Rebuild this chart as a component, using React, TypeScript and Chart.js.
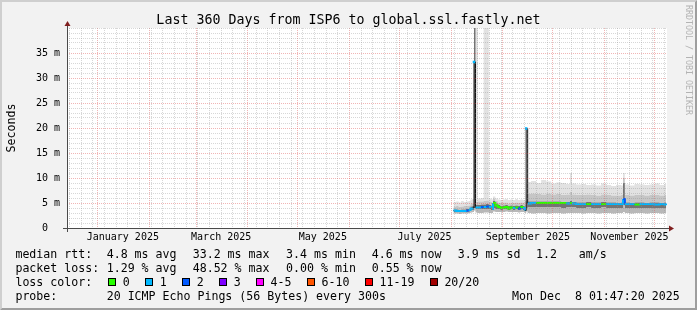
import React, { useEffect, useRef } from 'react';
import { Chart, registerables } from 'chart.js';

Chart.register(...registerables);

const MONO = '"DejaVu Sans Mono", "Liberation Mono", monospace';

// ---- axes (x in days relative to 1 January 2025) ----
const rangeStartDay = -18.5;
const rangeEndDay = 341.5;
const firstSunday = -17;
const monthStartDays = [0, 31, 59, 90, 120, 151, 181, 212, 243, 273, 304, 334];
const monthLabelDays = [15, 74, 135, 196, 258, 319];
const monthLabelTexts = ['January 2025', 'March 2025', 'May 2025', 'July 2025', 'September 2025', 'November 2025'];
const yMaxMs = 40;

// ---- data ----
const sampleDays = [
  213.4, 215.0, 216.5, 218.0, 219.5, 221.0, 222.5, 223.6, 224.8, 225.7,
  226.6, 228.0, 229.9, 231.5, 233.0, 234.6, 235.9, 236.6, 237.1, 238.5,
  240.0, 241.5, 243.0, 244.5, 246.0, 247.5, 249.0, 250.5, 252.0, 253.5,
  255.0, 256.2, 257.0, 257.9,
  260, 263, 266, 269, 272, 275, 278, 281, 283.3, 284.5,
  287, 290, 293, 296, 299, 302, 305, 308, 311, 314,
  315.1, 316.2, 319, 322, 325, 328, 331, 334, 337, 340, 341.1,
];
const medianMs = [
  3.5, 3.4, 3.4, 3.4, 3.4, 3.5, 3.6, 3.9, 4.0, 33.2,
  4.1, 4.1, 4.2, 4.2, 4.3, 4.2, 3.9, 3.8, 5.0, 4.5,
  4.2, 4.0, 4.1, 4.2, 3.9, 4.1, 4.0, 4.1, 3.9, 4.2,
  4.0, 3.5, 19.9, 4.9,
  5.0, 5.0, 5.0, 5.0, 5.0, 5.0, 5.0, 4.9, 5.0, 4.9,
  4.8, 4.8, 4.8, 4.8, 4.8, 4.8, 4.8, 4.8, 4.8, 4.8,
  5.8, 4.8, 4.8, 4.7, 4.8, 4.8, 4.8, 4.7, 4.8, 4.7, 4.6,
];
// index into lossColors
const lossClass = [
  1, 1, 1, 1, 1, 2, 1, 1, 1, 1,
  1, 1, 2, 1, 2, 1, 5, 1, 0, 0,
  0, 0, 0, 0, 0, 0, 1, 0, 2, 0,
  1, 1, 1, 1,
  1, 0, 0, 0, 0, 0, 0, 1, 0, 1,
  1, 1, 0, 1, 1, 0, 1, 1, 1, 1,
  2, 1, 1, 0, 1, 1, 1, 1, 1, 1, 1,
];
const pingMin = [
  2.9, 2.9, 2.8, 2.9, 2.9, 2.9, 3.0, 3.1, 3.2, 3.5,
  3.1, 3.0, 3.0, 3.1, 3.1, 3.0, 3.0, 3.0, 3.3, 3.2,
  3.2, 3.2, 3.2, 3.3, 3.2, 3.2, 3.2, 3.2, 3.1, 3.2,
  3.2, 3.0, 3.3, 3.0,
  2.9, 3.0, 3.0, 2.9, 3.0, 3.0, 2.9, 3.0, 3.0, 3.0,
  3.0, 2.9, 3.0, 3.0, 2.9, 3.0, 3.0, 2.9, 3.0, 3.0,
  3.2, 3.0, 2.9, 3.0, 3.0, 2.9, 3.0, 3.0, 2.9, 3.0, 3.0,
];
const pingLow = [
  3.2, 3.2, 3.1, 3.2, 3.2, 3.2, 3.3, 3.5, 3.6, 4.0,
  3.7, 3.7, 3.7, 3.8, 3.8, 3.7, 3.6, 3.5, 3.9, 3.8,
  3.7, 3.6, 3.7, 3.7, 3.6, 3.7, 3.6, 3.7, 3.6, 3.7,
  3.6, 3.3, 4.0, 4.1,
  4.1, 4.2, 4.1, 4.2, 4.1, 4.1, 4.0, 4.1, 4.1, 4.1,
  4.0, 4.0, 4.1, 4.0, 4.0, 4.1, 4.0, 4.0, 4.0, 4.0,
  4.5, 4.0, 4.0, 4.0, 4.0, 4.0, 4.0, 4.0, 4.0, 4.0, 4.0,
];
const pingHigh1 = [
  3.7, 3.7, 3.6, 3.7, 3.7, 3.8, 3.9, 4.3, 4.4, 40,
  4.6, 4.6, 4.7, 4.7, 4.8, 4.6, 4.5, 4.4, 5.4, 4.9,
  4.6, 4.4, 4.5, 4.6, 4.4, 4.5, 4.4, 4.5, 4.4, 4.6,
  4.4, 4.0, 5.3, 5.3,
  5.3, 5.3, 5.3, 5.3, 5.3, 5.3, 5.2, 5.2, 5.4, 5.2,
  5.1, 5.1, 5.2, 5.1, 5.1, 5.2, 5.1, 5.1, 5.0, 5.1,
  9.0, 5.1, 5.0, 5.1, 5.1, 5.0, 5.1, 5.1, 5.0, 5.1, 5.0,
];
const pingHigh2 = [
  4.3, 4.4, 4.2, 4.3, 4.4, 4.4, 4.5, 4.9, 5.0, 45,
  5.2, 5.3, 5.3, 5.4, 5.5, 5.3, 5.2, 5.1, 5.9, 5.4,
  5.1, 5.0, 5.1, 5.1, 4.9, 5.0, 5.0, 5.1, 5.0, 5.1,
  5.0, 4.6, 6.8, 6.8,
  6.9, 6.8, 6.7, 6.9, 6.7, 6.8, 6.6, 6.7, 7.2, 6.7,
  6.6, 6.6, 6.7, 6.6, 6.5, 6.7, 6.6, 6.5, 6.5, 6.6,
  10.0, 6.6, 6.5, 6.6, 6.6, 6.5, 6.6, 6.6, 6.5, 6.6, 6.6,
];
const pingMax = [
  5.2, 5.3, 5.1, 5.4, 5.2, 5.3, 5.4, 5.7, 5.8, 50,
  45, 5.9, 6.0, 45, 45, 5.9, 5.8, 5.7, 6.3, 5.9,
  5.7, 5.6, 5.7, 5.8, 5.6, 5.7, 5.6, 5.8, 5.6, 5.7,
  5.6, 5.4, 9.0, 9.2,
  9.4, 9.0, 9.6, 9.3, 8.9, 9.1, 9.0, 8.8, 11.0, 8.9,
  8.7, 8.8, 8.6, 8.7, 8.5, 8.9, 8.6, 8.4, 8.6, 8.5,
  11.0, 8.7, 8.5, 8.8, 8.7, 8.6, 8.7, 8.9, 8.6, 8.8, 8.8,
];

const lossColors = ['#26ff00', '#00b8ff', '#0059ff', '#7e00ff', '#ff00ff', '#ff5500', '#ff0000', '#a10000'];
const lossLabels = ['0', '1', '2', '3', '4-5', '6-10', '11-19', '20/20'];

const titleText = 'Last 360 Days from ISP6 to global.ssl.fastly.net';
const legendRttRow: [number, string][] = [
  [16, 'median rtt:'], [107.3, '4.8 ms avg'], [193.3, '33.2 ms max'], [286.7, '3.4 ms min'],
  [372.3, '4.6 ms now'], [458.3, '3.9 ms sd'], [536.7, '1.2'], [579.3, 'am/s'],
];
const legendLossRow: [number, string][] = [
  [16, 'packet loss:'], [107.3, '1.29 % avg'], [193.3, '48.52 % max'], [286.7, '0.00 % min'], [372.3, '0.55 % now'],
];
const legendProbeRow: [number, string][] = [
  [16, 'probe:'], [107.3, '20 ICMP Echo Pings (56 Bytes) every 300s'], [512.7, 'Mon Dec  8 01:47:20 2025'],
];

const MINOR_GRID = 'rgba(143,143,143,0.36)';
const MAJOR_GRID = 'rgba(222,79,79,0.42)';

const chromePlugin = {
  id: 'rrdChrome',
  beforeDraw(chart: any) {
    const { ctx, width, height, chartArea: a } = chart;
    ctx.save();
    ctx.fillStyle = '#f2f2f2';
    ctx.fillRect(0, 0, width, height);
    ctx.fillStyle = '#cfcfcf';
    ctx.beginPath();
    ctx.moveTo(0, height); ctx.lineTo(2, height - 2); ctx.lineTo(2, 2);
    ctx.lineTo(width - 2, 2); ctx.lineTo(width, 0); ctx.lineTo(0, 0);
    ctx.closePath(); ctx.fill();
    ctx.fillStyle = '#9e9e9e';
    ctx.beginPath();
    ctx.moveTo(2, height - 2); ctx.lineTo(width - 2, height - 2); ctx.lineTo(width - 2, 2);
    ctx.lineTo(width, 0); ctx.lineTo(width, height); ctx.lineTo(0, height);
    ctx.closePath(); ctx.fill();
    ctx.fillStyle = '#ffffff';
    ctx.fillRect(a.left, a.top, a.right - a.left, a.bottom - a.top);
    ctx.restore();
  },
  afterDraw(chart: any) {
    const { ctx, chartArea: a } = chart;
    ctx.save();
    // axes
    ctx.strokeStyle = '#4a4a4a';
    ctx.lineWidth = 1;
    ctx.setLineDash([]);
    ctx.beginPath();
    ctx.moveTo(a.left - 4, a.bottom + 0.5); ctx.lineTo(a.right + 4, a.bottom + 0.5);
    ctx.moveTo(a.left + 0.5, a.bottom + 4); ctx.lineTo(a.left + 0.5, a.top - 4);
    ctx.stroke();
    ctx.fillStyle = '#801f1f';
    ctx.beginPath();
    ctx.moveTo(a.right + 2, a.bottom - 2.5); ctx.lineTo(a.right + 2, a.bottom + 3.5); ctx.lineTo(a.right + 7, a.bottom + 0.5);
    ctx.closePath(); ctx.fill();
    ctx.beginPath();
    ctx.moveTo(a.left - 2.5, a.top - 2); ctx.lineTo(a.left + 3.5, a.top - 2); ctx.lineTo(a.left + 0.5, a.top - 7);
    ctx.closePath(); ctx.fill();

    ctx.fillStyle = '#000000';
    ctx.textBaseline = 'alphabetic';
    // title
    ctx.font = `13.3px ${MONO}`;
    ctx.textAlign = 'center';
    ctx.fillText(titleText, 348.5, 24);
    // y title
    ctx.font = `11.6px ${MONO}`;
    ctx.save();
    ctx.translate(14.5, (a.top + a.bottom) / 2);
    ctx.rotate(-Math.PI / 2);
    ctx.fillText('Seconds', 0, 0);
    ctx.restore();
    // legend
    ctx.textAlign = 'left';
    const row = (items: [number, string][], y: number) => items.forEach(([x, t]) => ctx.fillText(t, x - 0.6, y));
    row(legendRttRow, 257.5);
    row(legendLossRow, 271.7);
    ctx.fillText('loss color:', 15.4, 285.9);
    let x = 108.3;
    lossLabels.forEach((lab, i) => {
      const bx = Math.round(x);
      ctx.fillStyle = '#000000';
      ctx.fillRect(bx, 278, 8, 8);
      ctx.fillStyle = lossColors[i];
      ctx.fillRect(bx + 1, 279, 6, 6);
      ctx.fillStyle = '#000000';
      ctx.fillText(lab, x + 15 - 0.6, 285.9);
      x = x + 15 + ctx.measureText(lab).width + 15;
    });
    row(legendProbeRow, 300.1);
    // watermark
    ctx.fillStyle = '#b3b3b3';
    ctx.font = `8.3px ${MONO}`;
    ctx.translate(692.5, 5);
    ctx.rotate(Math.PI / 2);
    ctx.textBaseline = 'top';
    ctx.fillText('RRDTOOL / TOBI OETIKER', 0, 0);
    ctx.restore();
  },
};

export default function App() {
  const ref = useRef<HTMLCanvasElement>(null);
  useEffect(() => {
    document.body.style.margin = '0';
    const canvas = ref.current as HTMLCanvasElement;
    const pts = (arr: number[]) => sampleDays.map((d, i) => ({ x: d, y: arr[i] }));
    const band = (arr: number[], color: string, fill: any) => ({
      data: pts(arr),
      borderWidth: 0,
      borderColor: 'rgba(0,0,0,0)',
      backgroundColor: color,
      fill,
      stepped: true,
      pointRadius: 0,
      order: 3,
    });
    const xTickValues = (() => {
      const s = new Set<number>();
      for (let d = firstSunday; d <= rangeEndDay; d += 7) s.add(d);
      monthStartDays.forEach((d) => s.add(d));
      monthLabelDays.forEach((d) => s.add(d));
      return Array.from(s).sort((p, q) => p - q);
    })();
    const yTickValues: number[] = [];
    for (let v = 0; v <= yMaxMs; v += 1) yTickValues.push(v);

    const chart = new Chart(canvas, {
      type: 'line',
      data: {
        datasets: [
          band(pingMin, 'rgba(0,0,0,0)', false),
          band(pingLow, '#b8b8b8', '-1'),
          band(pingHigh1, '#747474', '-1'),
          band(pingHigh2, '#c6c6c6', '-1'),
          band(pingMax, '#e2e2e2', '-1'),
          {
            data: pts(medianMs),
            borderColor: '#141414',
            borderWidth: 1,
            stepped: true,
            fill: false,
            pointRadius: 0,
            order: 2,
          },
          {
            data: pts(medianMs),
            borderColor: lossColors[1],
            borderWidth: 2,
            stepped: true,
            fill: false,
            order: 1,
            borderCapStyle: 'butt',
            segment: {
              borderColor: (c: any) => {
                const i = c.p0DataIndex;
                const j = c.p1DataIndex;
                if (Math.abs(medianMs[j] - medianMs[i]) > 2) return 'rgba(0,0,0,0)';
                return lossColors[lossClass[i]];
              },
            },
            pointStyle: 'rect',
            pointRadius: (c: any) => (medianMs[c.dataIndex] > 10 ? 1.8 : 0),
            pointBackgroundColor: (c: any) => lossColors[lossClass[c.dataIndex]],
            pointBorderWidth: 0,
          },
        ] as any,
      },
      options: {
        animation: false,
        responsive: false,
        devicePixelRatio: 1,
        events: [],
        layout: { padding: { left: 0, right: 30, top: 28, bottom: 0 } },
        plugins: {
          legend: { display: false },
          tooltip: { enabled: false },
          title: { display: false },
        },
        scales: {
          x: {
            type: 'linear',
            min: rangeStartDay,
            max: rangeEndDay,
            afterBuildTicks: (axis: any) => {
              axis.ticks = xTickValues.map((value) => ({ value }));
            },
            afterFit: (axis: any) => {
              axis.height = 82;
            },
            ticks: {
              autoSkip: false,
              maxRotation: 0,
              minRotation: 0,
              padding: 3,
              color: '#000000',
              font: { family: MONO, size: 10 },
              callback: (v: any) => {
                const k = monthLabelDays.indexOf(Number(v));
                return k >= 0 ? monthLabelTexts[k] : '';
              },
            },
            grid: {
              drawTicks: false,
              lineWidth: 1,
              z: 1,
              color: (c: any) => {
                const v = c.tick ? c.tick.value : NaN;
                if (monthStartDays.includes(v)) return MAJOR_GRID;
                if ((v - firstSunday) % 7 === 0) return MINOR_GRID;
                return 'rgba(0,0,0,0)';
              },
            },
            border: { display: false, dash: [1, 1] },
          },
          y: {
            type: 'linear',
            min: 0,
            max: yMaxMs,
            afterBuildTicks: (axis: any) => {
              axis.ticks = yTickValues.map((value) => ({ value }));
            },
            afterFit: (axis: any) => {
              axis.width = 67;
            },
            ticks: {
              autoSkip: false,
              padding: 7,
              color: '#000000',
              font: { family: MONO, size: 10 },
              callback: (v: any) => {
                const n = Number(v);
                if (n === 0) return '0  ';
                if (n % 5 === 0 && n < yMaxMs) return `${n} m`;
                return '';
              },
            },
            grid: {
              drawTicks: false,
              lineWidth: 1,
              z: 1,
              color: (c: any) => {
                const v = c.tick ? c.tick.value : NaN;
                if (v === 0) return 'rgba(0,0,0,0)';
                if (v % 5 === 0 && v < yMaxMs) return MAJOR_GRID;
                return MINOR_GRID;
              },
            },
            border: { display: false, dash: [1, 1] },
          },
        },
      } as any,
      plugins: [chromePlugin],
    });
    return () => chart.destroy();
  }, []);
  return <canvas ref={ref} width={697} height={310} style={{ display: 'block' }} />;
}
